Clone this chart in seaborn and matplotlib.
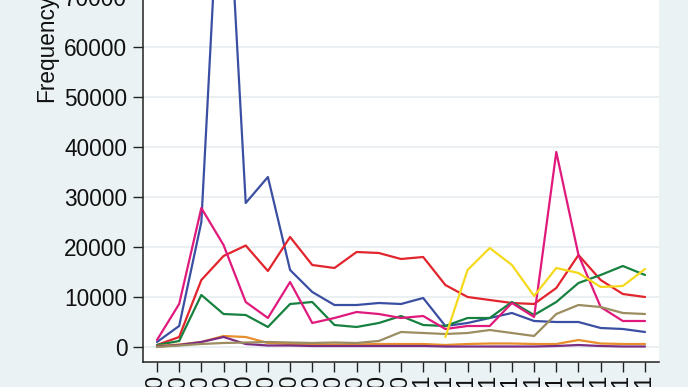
import numpy as np
import pandas as pd
import matplotlib
matplotlib.use("Agg")
import matplotlib.pyplot as plt
import seaborn as sns

# monthly labels, Jan 2010 - Nov 2011
months = ["Jan", "Feb", "Mar", "Apr", "May", "Jun", "Jul", "Aug", "Sep", "Oct", "Nov", "Dec"]
tick_labels = [m + " 2010" for m in months] + [m + " 2011" for m in months[:11]]

# series values
blue = [1000, 4200, 25000, 110000, 28800, 34000, 15400, 11000, 8400, 8400, 8800, 8600,
        9800, 4200, 4800, 5800, 6800, 5200, 5000, 5000, 3800, 3600, 3000]
red = [400, 2000, 13400, 18200, 20300, 15200, 22000, 16400, 15800, 19000, 18800, 17600,
       18000, 12400, 10000, 9400, 8800, 8600, 11800, 18400, 13400, 10600, 10000]
green = [400, 1200, 10400, 6600, 6400, 4000, 8600, 9000, 4400, 4000, 4800, 6200,
         4400, 4200, 5800, 5800, 9000, 6400, 9000, 12800, 14400, 16200, 14400]
pink = [1400, 8600, 27800, 20400, 9000, 5800, 13000, 4800, 5800, 7000, 6600, 5800,
        6200, 3600, 4200, 4200, 8800, 6000, 39000, 18400, 8000, 5200, 5200]
orange = [200, 500, 1000, 2200, 2000, 800, 600, 500, 500, 500, 600, 600,
          600, 400, 600, 700, 700, 600, 600, 1400, 700, 600, 600]
purple = [100, 400, 1000, 2000, 600, 300, 300, 200, 200, 200, 200, 200,
          200, 100, 100, 100, 100, 100, 200, 400, 200, 100, 100]
olive = [0, 300, 600, 800, 900, 1000, 900, 800, 900, 800, 1200, 3000,
         2800, 2600, 2800, 3400, 2800, 2200, 6600, 8400, 8000, 6800, 6600]
yellow = [2000, 15400, 19800, 16400, 10200, 15800, 14800, 12000, 12200, 15600]  # starts at month 13

series = {"blue": blue, "red": red, "green": green, "pink": pink,
          "orange": orange, "purple": purple, "olive": olive}
colors = {"blue": "#3B4FA2", "red": "#E2252D", "green": "#17813F", "pink": "#E01A7C",
          "orange": "#E88F2C", "purple": "#7B2C83", "olive": "#9C8D60", "yellow": "#F5D91C"}

rows = []
for name, vals in series.items():
    for i, v in enumerate(vals):
        rows.append((i, v, name))
for i, v in enumerate(yellow):
    rows.append((13 + i, v, "yellow"))
df = pd.DataFrame(rows, columns=["month", "freq", "series"])

sns.set_style("ticks")
plt.rcParams["font.family"] = ["Liberation Sans", "DejaVu Sans"]

bg = "#EAF2F3"
fig = plt.figure(figsize=(6.88, 3.87), dpi=100, facecolor=bg)
# axes runs past the top of the figure, like the cropped original
ax = fig.add_axes([143 / 688, 25 / 387, 516 / 688, 628 / 387])
ax.set_facecolor("white")

sns.lineplot(data=df, x="month", y="freq", hue="series", palette=colors,
             hue_order=list(colors.keys()), linewidth=1.6, legend=False, ax=ax)

ax.set_xlim(-0.63, 22.63)
ax.set_ylim(-3000, 122600)
ax.set_yticks(np.arange(0, 120001, 10000))
ax.set_xticks(range(len(tick_labels)))
ax.set_xticklabels(tick_labels, rotation=90)
ax.tick_params(axis="both", labelsize=16.3, length=7, width=1, color="#222222", labelcolor="#111111")
ax.tick_params(axis="y", pad=4.3)
ax.tick_params(axis="x", pad=3)

ax.grid(axis="y", color="#E6EEF0", linewidth=1.2)
ax.grid(axis="x", visible=False)
for s in ["top", "right"]:
    ax.spines[s].set_visible(False)
for s in ["left", "bottom"]:
    ax.spines[s].set_color("#222222")
    ax.spines[s].set_linewidth(1.1)

ax.set_xlabel("")
ax.set_ylabel("Frequency", fontsize=16.3, color="#111111")
ax.yaxis.set_label_coords(-0.165, 0.5)

fig.savefig("out.png", dpi=100, facecolor=bg)
